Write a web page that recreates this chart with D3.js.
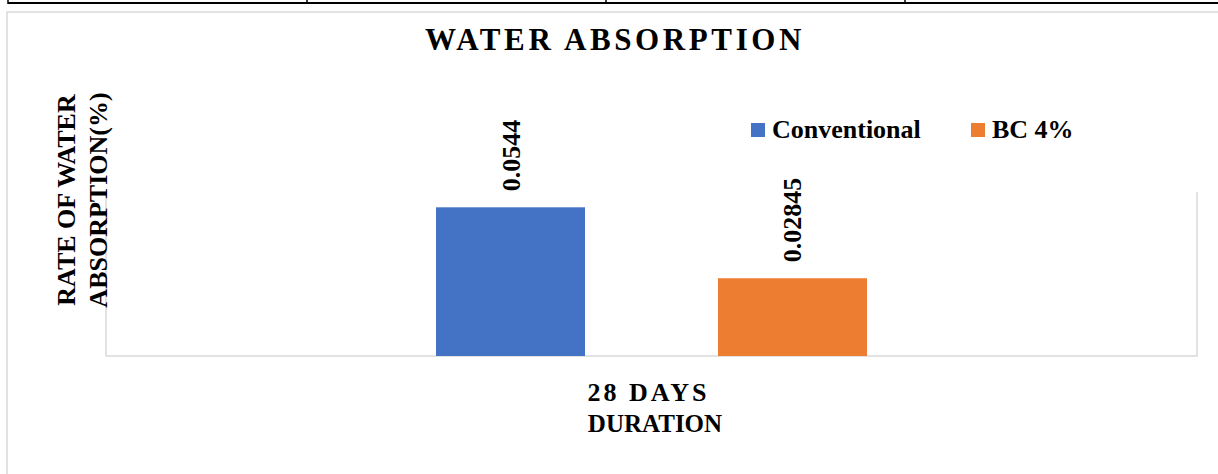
<title>Water absorption</title>
<body style="margin:0;background:#fff"></body>
<style>
  text { font-family: "Liberation Serif", "Times New Roman", serif; font-weight: bold; fill: #000; }
</style>
<script src="https://d3js.org/d3.v7.min.js"></script>
<script>
// data
categories = ['28 DAYS']
series = ['Conventional', 'BC 4%']
values = [0.0544, 0.02845]
colors = ['#4472C4', '#ED7D31']

W = 1218, H = 474

svg = d3.select('body').append('svg')
    .attr('width', W)
    .attr('height', H)

// table rule above the chart
svg.append('line').attr('x1', 8).attr('x2', W).attr('y1', 3).attr('y2', 3)
    .attr('stroke', '#000').attr('stroke-width', 2)
svg.selectAll('.cell').data([8, 307, 606, 905]).join('line')
    .attr('x1', d => d).attr('x2', d => d).attr('y1', 0).attr('y2', 4)
    .attr('stroke', '#000').attr('stroke-width', 1.5)

// chart border
svg.append('rect').attr('x', 7).attr('y', 12).attr('width', W + 10).attr('height', H)
    .attr('fill', 'none').attr('stroke', '#d9d9d9').attr('stroke-width', 1.5)

plot = {left: 106, right: 1197, top: 192, bottom: 356}

x0 = d3.scaleBand().domain(categories).range([plot.left, plot.right])
    .paddingInner(0).paddingOuter(0.7657)
x1 = d3.scaleBand().domain(series).range([0, x0.bandwidth()]).paddingInner(0.4716)
y = d3.scaleLinear().domain([0, 0.06]).range([plot.bottom, plot.top])

// plot area frame (left, right, bottom)
svg.append('path')
    .attr('d', `M${plot.left},${plot.top}V${plot.bottom}H${plot.right}V${plot.top}`)
    .attr('fill', 'none').attr('stroke', '#d9d9d9').attr('stroke-width', 1.5)

g = svg.append('g')
rows = series.map((s, i) => ({s: s, v: values[i], c: colors[i], cat: categories[0]}))

g.selectAll('rect').data(rows).join('rect')
    .attr('x', d => x0(d.cat) + x1(d.s))
    .attr('y', d => y(d.v))
    .attr('width', x1.bandwidth())
    .attr('height', d => y(0) - y(d.v))
    .attr('fill', d => d.c)

// value labels, rotated
g.selectAll('.lbl').data(rows).join('text')
    .attr('class', 'lbl')
    .attr('transform', d => `translate(${x0(d.cat) + x1(d.s) + x1.bandwidth() / 2 + 9},${y(d.v) - 16}) rotate(-90)`)
    .attr('font-size', 26)
    .text(d => d.v)

// x axis tick label
svg.append('g').attr('transform', `translate(0,${plot.bottom})`)
    .call(d3.axisBottom(x0).tickSize(0).tickPadding(0))
    .call(a => a.select('.domain').remove())
    .selectAll('text')
    .attr('y', 45).attr('dy', null)
    .attr('font-size', 26).attr('letter-spacing', 3)
    .attr('dx', -3)
    .style('font-family', '"Liberation Serif", serif')

// titles
svg.append('text').attr('x', 615).attr('y', 50).attr('text-anchor', 'middle')
    .attr('font-size', 31).attr('letter-spacing', 3.6)
    .text('WATER ABSORPTION')

svg.append('text').attr('x', 655).attr('y', 432).attr('text-anchor', 'middle')
    .attr('font-size', 25)
    .text('DURATION')

ytitle = svg.append('text').attr('transform', 'translate(75,200) rotate(-90)')
    .attr('text-anchor', 'middle').attr('font-size', 26)
ytitle.append('tspan').attr('x', 0).attr('y', 0).text('RATE OF WATER')
ytitle.append('tspan').attr('x', 0).attr('y', 32).text('ABSORPTION(%)')

// legend
legendX = [751, 971]
lg = svg.selectAll('.leg').data(rows).join('g')
    .attr('transform', (d, i) => `translate(${legendX[i]},123)`)
lg.append('rect').attr('width', 14).attr('height', 14).attr('fill', d => d.c)
lg.append('text').attr('x', 21).attr('y', 15).attr('font-size', 26).text(d => d.s)
</script>
